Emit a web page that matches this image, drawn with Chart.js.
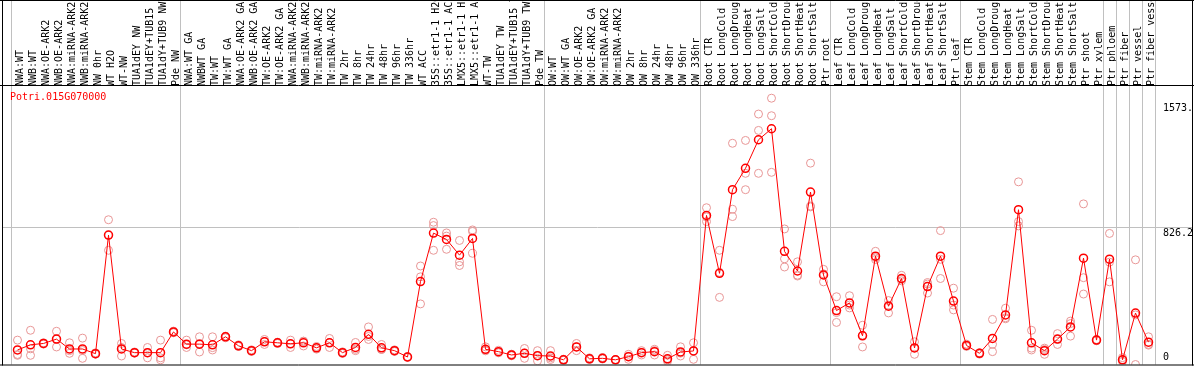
<!DOCTYPE html>
<html lang="en">
<head>
  <meta charset="UTF-8">
  <title>Potri.015G070000</title>
  <script src="https://cdn.jsdelivr.net/npm/chart.js"></script>
  <style>
    body { margin: 0; background: #fff; }
  </style>
</head>
<body>
  <canvas id="myChart" width="1194" height="370"></canvas>
  <script>
    const geneName = 'Potri.015G070000'

    const labels = [
      'NWA:WT', 'NWB:WT', 'NWA:OE-ARK2', 'NWB:OE-ARK2', 'NWA:miRNA-ARK2', 'NWB:miRNA-ARK2',
      'NW 0hr', 'WT H2O', 'WT-NW', 'TUA1dEY NW', 'TUA1dEY+TUB15 NW', 'TUA1dY+TUB9 NW', 'Pde NW',
      'NWA:WT GA', 'NWBWT GA', 'TW:WT', 'TW:WT GA', 'NWA:OE-ARK2 GA', 'NWB:OE-ARK2 GA',
      'TW:OE-ARK2', 'TW:OE-ARK2 GA', 'NWA:miRNA-ARK2 GA', 'NWB:miRNA-ARK2 GA', 'TW:miRNA-ARK2',
      'TW:miRNA-ARK2', 'TW 2hr', 'TW 8hr', 'TW 24hr', 'TW 48hr', 'TW 96hr', 'TW 336hr', 'WT ACC',
      '35S::etr1-1 H2O', '35S::etr1-1 ACC', 'LMX5::etr1-1 H2O', 'LMX5::etr1-1 ACC', 'WT-TW',
      'TUA1dEY TW', 'TUA1dEY+TUB15 TW', 'TUA1dY+TUB9 TW', 'Pde TW',
      'OW:WT', 'OW:WT GA', 'OW:OE-ARK2', 'OW:OE-ARK2 GA', 'OW:miRNA-ARK2', 'OW:miRNA-ARK2',
      'OW 2hr', 'OW 8hr', 'OW 24hr', 'OW 48hr', 'OW 96hr', 'OW 336hr',
      'Root CTR', 'Root LongCold', 'Root LongDrought', 'Root LongHeat', 'Root LongSalt',
      'Root ShortCold', 'Root ShortDrought', 'Root ShortHeat', 'Root ShortSalt', 'Ptr root',
      'Leaf CTR', 'Leaf LongCold', 'Leaf LongDrought', 'Leaf LongHeat', 'Leaf LongSalt',
      'Leaf ShortCold', 'Leaf ShortDrought', 'Leaf ShortHeat', 'Leaf ShortSalt', 'Ptr leaf',
      'Stem CTR', 'Stem LongCold', 'Stem LongDrought', 'Stem LongHeat', 'Stem LongSalt',
      'Stem ShortCold', 'Stem ShortDrought', 'Stem ShortHeat', 'Stem ShortSalt', 'Ptr shoot',
      'Ptr xylem', 'Ptr phloem', 'Ptr fiber', 'Ptr vessel', 'Ptr fiber vessel'
    ]

    // mean expression per sample
    const means = [
      87, 118, 126, 152, 93, 93, 65, 775, 93, 71, 71, 71, 195,
      122, 122, 118, 166, 112, 83, 136, 130, 124, 130, 100, 130, 71, 102, 181, 100, 83, 45,
      497, 787, 749, 655, 755, 91, 77, 57, 67, 53,
      51, 28, 105, 34, 37, 28, 47, 71, 77, 34, 75, 81,
      893, 546, 1047, 1175, 1346, 1412, 678, 560, 1033, 536,
      323, 369, 172, 649, 349, 515, 99, 467, 649, 380,
      114, 67, 156, 297, 927, 130, 83, 152, 225, 637,
      146, 631, 28, 308, 134
    ]

    // individual replicates
    const rep1 = [
      146, 205, 130, 199, 130, 158, 70, 867, 126, 75, 102, 146, 200,
      146, 166, 166, 170, 118, 88, 150, 134, 146, 140, 108, 156, 76, 132, 225, 120, 88, 48,
      590, 852, 788, 743, 806, 106, 85, 62, 96, 83,
      83, 32, 126, 40, 42, 30, 61, 83, 83, 55, 106, 130,
      939, 684, 1325, 1342, 1500, 1595, 812, 615, 1206, 570,
      406, 412, 235, 678, 383, 534, 136, 491, 802, 457,
      122, 70, 270, 337, 1094, 205, 90, 185, 260, 962,
      150, 785, 41, 627, 166
    ]
    const rep2 = [
      55, 55, 122, 105, 67, 37, 62, 684, 51, 68, 40, 40, 190,
      102, 75, 87, 160, 108, 78, 120, 126, 102, 111, 92, 102, 66, 83, 150, 90, 78, 42,
      525, 832, 690, 615, 797, 85, 70, 52, 37, 22,
      30, 25, 83, 30, 33, 26, 31, 57, 57, 28, 51, 31,
      856, 402, 930, 1145, 1402, 1490, 633, 530, 944, 495,
      252, 339, 105, 640, 309, 510, 61, 428, 515, 327,
      108, 62, 77, 274, 856, 87, 61, 120, 170, 520,
      142, 495, 18, 0, 116
    ]
    const rep3 = [
      60, 94, 126, 152, 83, 84, 63, 774, 102, 70, 71, 28, 195,
      118, 125, 101, 168, 110, 83, 138, 130, 124, 139, 100, 132, 71, 91, 168, 90, 83, 45,
      363, 684, 769, 593, 666, 82, 76, 57, 68, 54,
      40, 27, 106, 32, 36, 28, 49, 73, 91, 19, 68, 82,
      884, 552, 886, 1047, 1145, 1151, 584, 535, 949, 543,
      311, 356, 176, 629, 355, 501, 100, 482, 630, 356,
      112, 69, 121, 280, 830, 98, 98, 151, 245, 422,
      146, 613, 25, 297, 120
    ]

    const yTicks = [0, 826.2, 1573]
    const yTickLabels = ['0', '826.2', '1573.']
    // sample indices where a new group starts (88 = end)
    const groupBreaks = [0, 13, 41, 53, 63, 73, 84, 85, 86, 87, 88]

    const monoFont = '"DejaVu Sans Mono", monospace'

    const framePlugin = {
      id: 'frame',
      beforeDatasetsDraw(chart) {
        const { ctx, chartArea, scales: { x, y } } = chart
        const cell = (chartArea.right - chartArea.left) / labels.length
        ctx.save()
        ctx.strokeStyle = '#c0c0c0'
        ctx.lineWidth = 1
        ctx.beginPath()
        groupBreaks.forEach(i => {
          const px = Math.round(x.getPixelForValue(i) - cell / 2) + 0.5
          ctx.moveTo(px, 0)
          ctx.lineTo(px, chartArea.bottom)
        })
        const gy = Math.round(y.getPixelForValue(yTicks[1])) + 0.5
        ctx.moveTo(2, gy)
        ctx.lineTo(1193, gy)
        ctx.stroke()
        ctx.restore()
      },
      afterDraw(chart) {
        const { ctx, chartArea, scales: { y } } = chart
        ctx.save()
        ctx.font = '10px ' + monoFont
        ctx.textAlign = 'left'
        ctx.fillStyle = '#000'
        yTicks.forEach((v, k) => {
          const py = y.getPixelForValue(v)
          if (v === 0) {
            ctx.textBaseline = 'bottom'
            ctx.fillText(yTickLabels[k], 1163, py - 2)
          } else {
            ctx.textBaseline = 'top'
            ctx.fillText(yTickLabels[k], 1163, py + 2)
          }
        })
        ctx.fillStyle = '#ff0000'
        ctx.textBaseline = 'middle'
        ctx.fillText(geneName, 10, chartArea.top + 12)

        ctx.strokeStyle = '#000'
        ctx.lineWidth = 1
        ctx.beginPath()
        ctx.moveTo(0, 0.5); ctx.lineTo(1194, 0.5)
        ctx.moveTo(0, chartArea.top + 0.5); ctx.lineTo(1194, chartArea.top + 0.5)
        ctx.moveTo(0, chartArea.bottom + 0.5); ctx.lineTo(1194, chartArea.bottom + 0.5)
        ctx.moveTo(2.5, 0); ctx.lineTo(2.5, chartArea.bottom + 1)
        ctx.moveTo(1192.5, 0); ctx.lineTo(1192.5, chartArea.bottom + 1)
        ctx.stroke()
        ctx.restore()
      }
    }

    const repSet = data => ({
      data: data,
      showLine: false,
      pointStyle: 'circle',
      pointRadius: 4,
      pointBorderWidth: 1,
      pointBorderColor: '#e89696',
      pointBackgroundColor: 'rgba(0,0,0,0)',
      order: 1
    })

    new Chart(document.getElementById('myChart'), {
      type: 'line',
      data: {
        labels: labels,
        datasets: [
          {
            data: means,
            borderColor: '#ff0000',
            borderWidth: 1,
            pointStyle: 'circle',
            pointRadius: 4,
            pointBorderWidth: 1.5,
            pointBorderColor: '#ff0000',
            pointBackgroundColor: 'rgba(0,0,0,0)',
            tension: 0,
            order: 0
          },
          repSet(rep1),
          repSet(rep2),
          repSet(rep3)
        ]
      },
      options: {
        responsive: false,
        animation: false,
        layout: { padding: { left: 11, bottom: 2, top: 0, right: 0 } },
        plugins: {
          legend: { display: false },
          tooltip: { enabled: false }
        },
        scales: {
          x: {
            position: 'top',
            offset: true,
            grid: { display: false, tickLength: 0 },
            border: { display: false },
            ticks: {
              autoSkip: false,
              minRotation: 90,
              maxRotation: 90,
              padding: -1,
              labelOffset: 15,
              color: '#000',
              font: { family: monoFont, size: 10 }
            },
            afterFit: s => { s.height = 85 }
          },
          y: {
            position: 'right',
            min: 0,
            max: 1674,
            grid: { display: false },
            border: { display: false },
            ticks: { display: false },
            afterFit: s => { s.width = 39 }
          }
        }
      },
      plugins: [framePlugin]
    })
  </script>
</body>
</html>
